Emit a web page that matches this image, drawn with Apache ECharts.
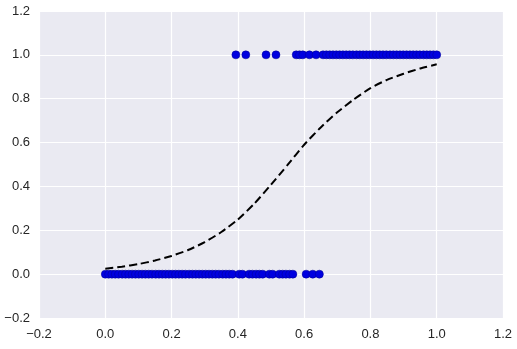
<!DOCTYPE html>
<html>
<head>
<meta charset="utf-8">
<script src="https://cdn.jsdelivr.net/npm/echarts@6/dist/echarts.min.js"></script>
<style>
html,body{margin:0;padding:0;background:#fff;}
#c{width:517px;height:349px;}
</style>
</head>
<body>
<div id="c"></div>
<script>
// Observed points with label 0
var x0 = [0.000,0.010,0.020,0.030,0.040,0.051,0.061,0.071,0.081,0.091,0.101,0.111,0.121,0.131,0.141,0.152,0.162,0.172,0.182,0.192,0.202,0.212,0.222,0.232,0.242,0.253,0.263,0.273,0.283,0.293,0.303,0.313,0.323,0.333,0.343,0.354,0.364,0.374,0.384,0.404,0.414,0.434,0.444,0.455,0.465,0.475,0.495,0.505,0.525,0.535,0.545,0.556,0.566,0.606,0.626,0.646];
// Observed points with label 1
var x1 = [0.394,0.424,0.485,0.515,0.576,0.586,0.596,0.616,0.636,0.657,0.667,0.677,0.687,0.697,0.707,0.717,0.727,0.737,0.747,0.758,0.768,0.778,0.788,0.798,0.808,0.818,0.828,0.838,0.848,0.859,0.869,0.879,0.889,0.899,0.909,0.919,0.929,0.939,0.949,0.960,0.970,0.980,0.990,1.000];
// Fitted curve
var curveX = [0,0.05,0.1,0.15,0.2,0.25,0.3,0.35,0.4,0.45,0.5,0.55,0.6,0.65,0.7,0.75,0.8,0.85,0.9,0.95,1.0];
var curveY = [0.025,0.034,0.046,0.062,0.083,0.110,0.146,0.192,0.249,0.322,0.408,0.498,0.590,0.669,0.738,0.797,0.848,0.886,0.914,0.938,0.957];
var xTicks = {min:-0.2, max:1.2, step:0.2};
var yTicks = {min:-0.2, max:1.2, step:0.2};

var fmt = function(v){ var s = (Math.round(v*10)/10).toFixed(1); return s.replace('-', '\u2212'); };
var ch = echarts.init(document.getElementById('c'));
var axisCommon = {
  type:'value',
  axisLine:{show:false}, axisTick:{show:false},
  splitLine:{show:true, lineStyle:{color:'#ffffff', width:1.2}},
  axisLabel:{color:'#262626', fontSize:13, fontFamily:'Liberation Sans, Arial, sans-serif', formatter:fmt}
};
ch.setOption({
  animation:false,
  backgroundColor:'#ffffff',
  grid:{left:39, right:14, top:11, bottom:31, show:true, backgroundColor:'#EAEAF2', borderWidth:0},
  xAxis: Object.assign({}, axisCommon, {min:xTicks.min, max:xTicks.max, interval:xTicks.step,
    axisLabel:Object.assign({}, axisCommon.axisLabel, {margin:10})}),
  yAxis: Object.assign({}, axisCommon, {min:yTicks.min, max:yTicks.max, interval:yTicks.step,
    axisLabel:Object.assign({}, axisCommon.axisLabel, {margin:9})}),
  series:[
    {type:'scatter', symbol:'circle', symbolSize:8,
     itemStyle:{color:'#0000e0', borderColor:'#000090', borderWidth:0.5, opacity:1},
     data:x0.map(function(v){return [v,0];})},
    {type:'scatter', symbol:'circle', symbolSize:8,
     itemStyle:{color:'#0000e0', borderColor:'#000090', borderWidth:0.5, opacity:1},
     data:x1.map(function(v){return [v,1];})},
    {type:'line', smooth:0.2, showSymbol:false, symbol:'none',
     lineStyle:{color:'#000000', width:2, type:[8,4]},
     data:curveX.map(function(v,i){return [v,curveY[i]];}), z:5}
  ]
});
</script>
</body>
</html>
